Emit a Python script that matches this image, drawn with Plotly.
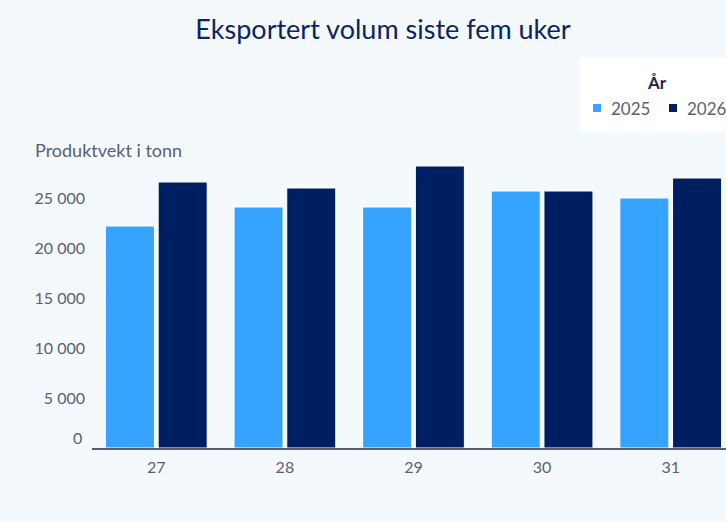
import plotly.graph_objects as go

# week numbers and exported volume (tonnes product weight)
weeks = ["27", "28", "29", "30", "31"]
vol_2025 = [22200, 24100, 24100, 25700, 25000]
vol_2026 = [26600, 26000, 28200, 25700, 27000]
series_names = ["2025", "2026"]
ytick_vals = [5000, 10000, 15000, 20000, 25000]
ytick_text = ["5 000", "10 000", "15 000", "20 000", "25 000"]
zero_label = "0"

W, H = 726, 522
ML, MR, MT, MB = 92, 0, 163, 74
BG = "#f4f9fe"
LIGHT = "#36a3ff"
NAVY = "#001f63"
GREY = "#5a6072"
FONT = "Lato"
colors = [LIGHT, NAVY]

fig = go.Figure()
for name, vals, col in zip(series_names, [vol_2025, vol_2026], colors):
    fig.add_trace(go.Bar(x=weeks, y=vals, name=name,
                         marker=dict(color=col, line=dict(color="#ffffff", width=1))))

pw = W - ML - MR
ph = H - MT - MB


def px_x(p):
    return (p - ML) / pw


def px_y(p):
    return (H - MB - p) / ph


# rounded legend box (goes off the right edge like the original)
x0, x1 = px_x(579), px_x(740)
y0, y1 = px_y(132), px_y(57)
rx, ry = 8 / pw, 8 / ph
path = (f"M{x0+rx},{y0} L{x1-rx},{y0} Q{x1},{y0} {x1},{y0+ry} "
        f"L{x1},{y1-ry} Q{x1},{y1} {x1-rx},{y1} L{x0+rx},{y1} "
        f"Q{x0},{y1} {x0},{y1-ry} L{x0},{y0+ry} Q{x0},{y0} {x0+rx},{y0} Z")
fig.add_shape(type="path", path=path, xref="paper", yref="paper",
              fillcolor="#ffffff", line=dict(width=0), layer="below")

# hand-built legend: plotly's own spacing is too loose for this box
fig.add_annotation(text="<b>År</b>", xref="paper", yref="paper",
                   x=px_x(657), y=px_y(82), xanchor="center", yanchor="middle",
                   showarrow=False, font=dict(family=FONT, size=17, color="#2b1b4a"))
for i, (name, col) in enumerate(zip(series_names, colors)):
    sx = 593 + i * 76
    fig.add_shape(type="rect", xref="paper", yref="paper",
                  x0=px_x(sx), x1=px_x(sx + 8), y0=px_y(112), y1=px_y(104),
                  fillcolor=col, line=dict(width=0))
    fig.add_annotation(text=name, xref="paper", yref="paper",
                       x=px_x(sx + 16), y=px_y(108), xanchor="left", yanchor="middle",
                       showarrow=False, font=dict(family=FONT, size=17, color=GREY))

fig.add_annotation(text="Produktvekt i tonn", xref="paper", yref="paper",
                   x=px_x(33), y=px_y(150), xanchor="left", yanchor="middle",
                   showarrow=False, font=dict(family=FONT, size=18, color=GREY))
fig.add_annotation(text=zero_label, xref="paper", yref="y", x=0, y=0,
                   xanchor="right", yanchor="middle", xshift=-8, yshift=11,
                   showarrow=False, font=dict(family=FONT, size=16, color=GREY))

fig.update_layout(
    width=W, height=H,
    margin=dict(l=ML, r=MR, t=MT, b=MB, autoexpand=False),
    paper_bgcolor=BG, plot_bgcolor=BG,
    font=dict(family=FONT, color=GREY),
    title=dict(text="Eksportert volum siste fem uker", x=383 / W, xanchor="center",
               y=1 - 30 / H, yanchor="middle",
               font=dict(family=FONT, size=27, color="#0a2463")),
    barmode="group", bargap=0.18, bargroupgap=0.07,
    showlegend=False,
    xaxis=dict(range=[-0.5, 4.43], showgrid=False, showline=True, linecolor="#5a5f6b",
               linewidth=2, ticks="", ticklabelstandoff=4,
               tickfont=dict(family=FONT, size=16, color=GREY)),
    yaxis=dict(range=[0, 28500], showgrid=False, zeroline=False, showline=False,
               tickvals=ytick_vals, ticktext=ytick_text, ticks="", ticklabelstandoff=6,
               tickfont=dict(family=FONT, size=16, color=GREY)),
)

fig.write_html("out.html", config={"displayModeBar": False},
               post_script="document.body.style.margin='0';"
                           "document.body.style.background='#f4f9fe';")
